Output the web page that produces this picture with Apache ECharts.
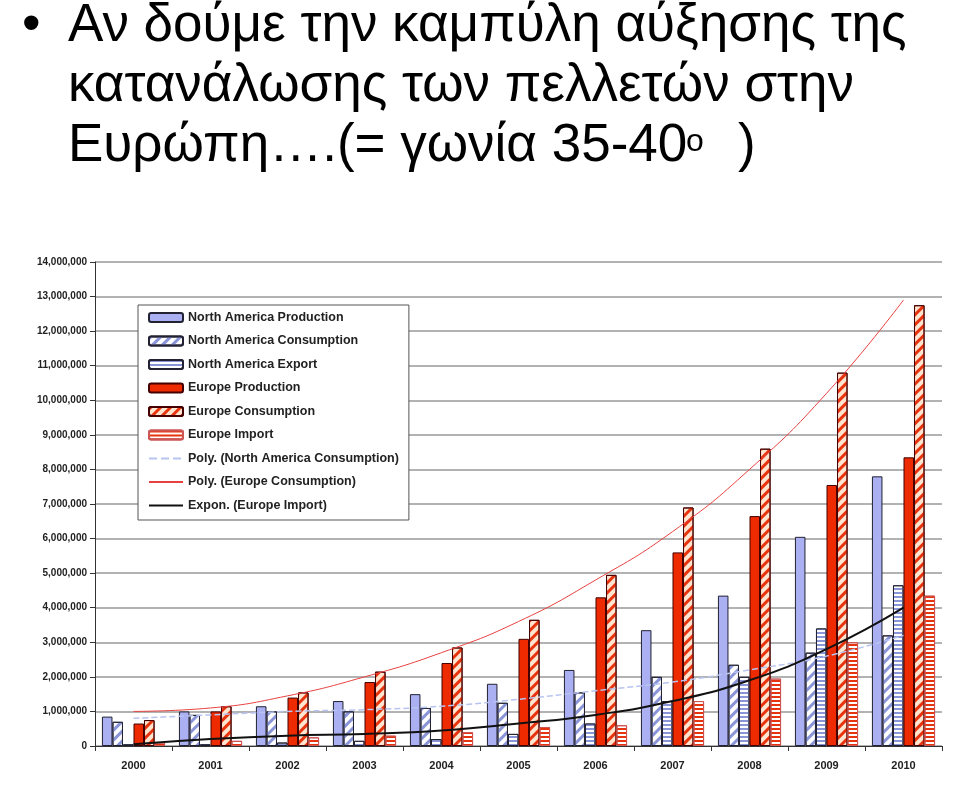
<!DOCTYPE html><html><head><meta charset="utf-8"><script src="https://cdn.jsdelivr.net/npm/echarts@6/dist/echarts.min.js"></script>
<style>html,body{margin:0;background:#fff}#c{width:960px;height:796px}</style></head><body><div id="c"></div><script>
const years=['2000','2001','2002','2003','2004','2005','2006','2007','2008','2009','2010'];
const naProd=[0.85,1.0,1.15,1.3,1.5,1.8,2.2,3.35,4.35,6.05,7.8];
const naCons=[0.7,0.9,1.0,1.0,1.1,1.25,1.55,2.0,2.35,2.7,3.2];
const naExp=[0.05,0.05,0.1,0.15,0.2,0.35,0.65,1.3,2.0,3.4,4.65];
const euProd=[0.65,1.0,1.4,1.85,2.4,3.1,4.3,5.6,6.65,7.55,8.35];
const euCons=[0.75,1.15,1.55,2.15,2.85,3.65,4.95,6.9,8.6,10.8,12.75];
const euImp=[0.1,0.15,0.25,0.3,0.4,0.55,0.6,1.3,1.95,3.0,4.35];
const trNa=[0.8,0.9,1.0,1.05,1.15,1.35,1.6,1.85,2.2,2.6,3.2];
const trEu=[1.0,1.1,1.45,2.0,2.7,3.6,4.8,6.2,8.0,10.2,12.9];
const trImp=[0.05,0.2,0.3,0.35,0.45,0.65,0.9,1.3,1.9,2.8,4.0];
const M=a=>a.map(v=>Math.round(v*1e6));
const diag=(c)=>({symbol:'rect',color:c,dashArrayX:[1,0],dashArrayY:[3,4],rotation:-Math.PI/4,symbolSize:1});
const horiz=(c)=>({symbol:'rect',color:c,dashArrayX:[1,0],dashArrayY:[2,2],rotation:0,symbolSize:1});
const bar=(name,data,st)=>({name,type:'bar',data:M(data),barGap:'0%',barCategoryGap:'18%',itemStyle:st,emphasis:{disabled:true}});
const line=(name,data,c,w,type)=>({name,type:'line',data:M(data),symbol:'none',smooth:true,lineStyle:{color:c,width:w,type},itemStyle:{color:c}});
const F='53px "Liberation Sans"';
const ch=echarts.init(document.getElementById('c'));
const lg=['North America Production','North America Consumption','North America Export','Europe Production','Europe Consumption','Europe Import'];
const ll=['Poly. (North America Consumption)','Poly. (Europe Consumption)','Expon. (Europe Import)'];
ch.setOption({animation:false,
graphic:[
{type:'text',left:22,top:0,style:{text:'•',font:F,fill:'#000'}},
{type:'text',left:68,top:0,style:{text:'Αν δούμε την καμπύλη αύξησης της',font:F,fill:'#000'}},
{type:'text',left:68,top:60,style:{text:'κατανάλωσης των πελλετών στην',font:F,fill:'#000'}},
{type:'text',left:68,top:120,style:{text:'Ευρώπη….(= γωνία 35-40',font:F,fill:'#000'}},
{type:'text',left:686,top:126,style:{text:'o',font:'32px "Liberation Sans"',fill:'#000'}},
{type:'text',left:738,top:120,style:{text:')',font:F,fill:'#000'}}
],
grid:{left:95,right:18,top:262,bottom:50},
legend:{orient:'vertical',left:138,top:305,itemGap:10.5,itemWidth:34,itemHeight:9,backgroundColor:'#fff',borderColor:'#555',borderWidth:1,padding:[6,10,8,10],
 textStyle:{fontSize:12.5,fontWeight:'bold',color:'#222',fontFamily:'Liberation Sans'},
 data:lg.concat(ll.map(n=>({name:n,itemStyle:{opacity:0}})))},
xAxis:{type:'category',data:years,axisTick:{show:true},axisLine:{lineStyle:{color:'#333'}},axisLabel:{fontSize:11,fontWeight:'bold',color:'#222',margin:14}},
yAxis:{type:'value',min:0,max:14000000,interval:1000000,axisLine:{show:true,lineStyle:{color:'#333'}},axisTick:{show:true},
 axisLabel:{fontSize:10,fontWeight:'bold',color:'#222',formatter:v=>v.toLocaleString('en-US')},splitLine:{lineStyle:{color:'#999',width:1.5}}},
series:[
bar(lg[0],naProd,{color:'#aab0f2',borderColor:'#223',borderWidth:1}),
bar(lg[1],naCons,{color:'#fff',borderColor:'#223',borderWidth:1,decal:diag('#8a95d8')}),
bar(lg[2],naExp,{color:'#fff',borderColor:'#223',borderWidth:1,decal:horiz('#8a95d8')}),
bar(lg[3],euProd,{color:'#ee2a00',borderColor:'#400',borderWidth:1}),
bar(lg[4],euCons,{color:'#ffe4d0',borderColor:'#400',borderWidth:1,decal:diag('#e8340e')}),
bar(lg[5],euImp,{color:'#fff',borderColor:'#c55',borderWidth:1,decal:horiz('#e8340e')}),
line(ll[0],trNa,'#b8c4f0',1.5,'dashed'),
line(ll[1],trEu,'#e84040',1,'solid'),
line(ll[2],trImp,'#111',2,'solid')
]});
</script></body></html>
